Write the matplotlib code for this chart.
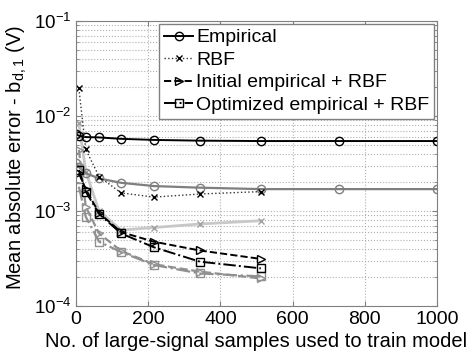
import matplotlib
matplotlib.use("Agg")
import matplotlib.pyplot as plt
from matplotlib.ticker import LogLocator, FixedLocator

plt.rcParams['font.family'] = ['Liberation Sans', 'DejaVu Sans']
plt.rcParams['mathtext.fontset'] = 'custom'
plt.rcParams['mathtext.rm'] = 'Liberation Sans'
plt.rcParams['mathtext.it'] = 'Liberation Sans:italic'
plt.rcParams['mathtext.default'] = 'regular'

# Data
x_emp = [1, 8, 27, 64, 125, 216, 343, 512, 729, 1000]
emp_black = [6.4e-3, 6.2e-3, 6.0e-3, 5.95e-3, 5.75e-3, 5.6e-3, 5.5e-3, 5.45e-3, 5.45e-3, 5.45e-3]
emp_gray = [3.2e-3, 2.9e-3, 2.5e-3, 2.2e-3, 1.98e-3, 1.83e-3, 1.76e-3, 1.70e-3, 1.70e-3, 1.70e-3]

x_hyb = [8, 27, 64, 125, 216, 343, 512]
rbf_black = [1.95e-2, 4.45e-3, 2.3e-3, 1.55e-3, 1.40e-3, 1.51e-3, 1.6e-3]
rbf_gray = [8.4e-3, 2.6e-3, 1.0e-3, 6.3e-4, 6.7e-4, 7.3e-4, 7.9e-4]
init_black = [2.5e-3, 1.7e-3, 9.5e-4, 6.0e-4, 4.75e-4, 3.84e-4, 3.13e-4]
opt_black = [2.7e-3, 1.6e-3, 9.3e-4, 5.8e-4, 4.15e-4, 2.93e-4, 2.49e-4]
init_gray = [4.4e-3, 1.11e-3, 5.8e-4, 3.8e-4, 2.75e-4, 2.3e-4, 1.95e-4]
opt_gray = [1.8e-3, 8.7e-4, 4.75e-4, 3.7e-4, 2.7e-4, 2.2e-4, 2.05e-4]

labels = ['Empirical', 'RBF', 'Initial empirical + RBF', 'Optimized empirical + RBF']
xticks = [0, 200, 400, 600, 800, 1000]

fig = plt.figure(figsize=(4.67, 3.56), dpi=100)
ax = fig.add_axes([76/467, 1-306/356, (437-76)/467, (306-21)/356])

g = '#7f7f7f'
lg = '#c8c8c8'
ms = 6
# gray series (drawn first)
ax.plot(x_hyb, rbf_gray, color=lg, ls='-', lw=2, marker='x', ms=5, mec='#a0a0a0', mfc='none')
ax.plot(x_emp, emp_gray, color=g, ls='-', lw=1.6, marker='o', ms=ms, mfc='none', mec=g)
ax.plot(x_hyb, init_gray, color='#909090', ls='--', lw=1.6, marker='>', ms=ms, mfc='none', mec='#909090')
ax.plot(x_hyb, opt_gray, color='#909090', ls='-.', lw=1.6, marker='s', ms=ms-0.5, mfc='none', mec='#909090')

# black series
l1, = ax.plot(x_emp, emp_black, color='k', ls='-', lw=1.4, marker='o', ms=ms, mfc='none', mec='k', label=labels[0])
l2, = ax.plot(x_hyb, rbf_black, color='#333333', ls=':', lw=1.0, marker='x', ms=5, mec='k', label=labels[1])
l3, = ax.plot(x_hyb, init_black, color='k', ls='--', lw=1.4, marker='>', ms=ms, mfc='none', mec='k', label=labels[2])
l4, = ax.plot(x_hyb, opt_black, color='k', ls='-.', lw=1.4, marker='s', ms=ms-0.5, mfc='none', mec='k', label=labels[3])

ax.set_yscale('log')
ax.set_ylim(1e-4, 1e-1)
ax.set_xlim(0, 1000)
ax.xaxis.set_major_locator(FixedLocator(xticks))
ax.set_xticklabels([str(t) for t in xticks])
ax.yaxis.set_major_locator(LogLocator(base=10, numticks=10))
ax.yaxis.set_minor_locator(LogLocator(base=10, subs=range(2, 10), numticks=20))
ax.yaxis.set_minor_formatter(plt.NullFormatter())

ax.grid(True, which='major', ls=':', color='#b0b0b0', lw=0.8)
ax.grid(True, which='minor', axis='y', ls=':', color='#b0b0b0', lw=0.8)
for s in ax.spines.values():
    s.set_color('#808080')
ax.tick_params(axis='both', which='both', direction='in', colors='#808080', labelcolor='k', labelsize=14)
ax.tick_params(axis='y', labelsize=13.5)
ax.tick_params(which='both', top=True, right=True)
ax.tick_params(which='minor', length=2)

ax.set_xlabel('No. of large-signal samples used to train model', fontsize=14.5)
ax.xaxis.set_label_coords(0.5, -0.09)
ax.set_ylabel('Mean absolute error - b$_{d,1}$ (V)', fontsize=14.5)
ax.yaxis.set_label_coords(-0.13, 0.52)

leg = ax.legend(handles=[l1, l2, l3, l4], loc='upper right', fontsize=14,
                frameon=True, fancybox=False, borderaxespad=0.15, handlelength=1.5,
                handletextpad=0.15, borderpad=0.25, labelspacing=0.25)
leg.get_frame().set_edgecolor('#808080')
leg.get_frame().set_linewidth(1.0)
leg.get_frame().set_alpha(1)

fig.savefig('out.png', dpi=100)
